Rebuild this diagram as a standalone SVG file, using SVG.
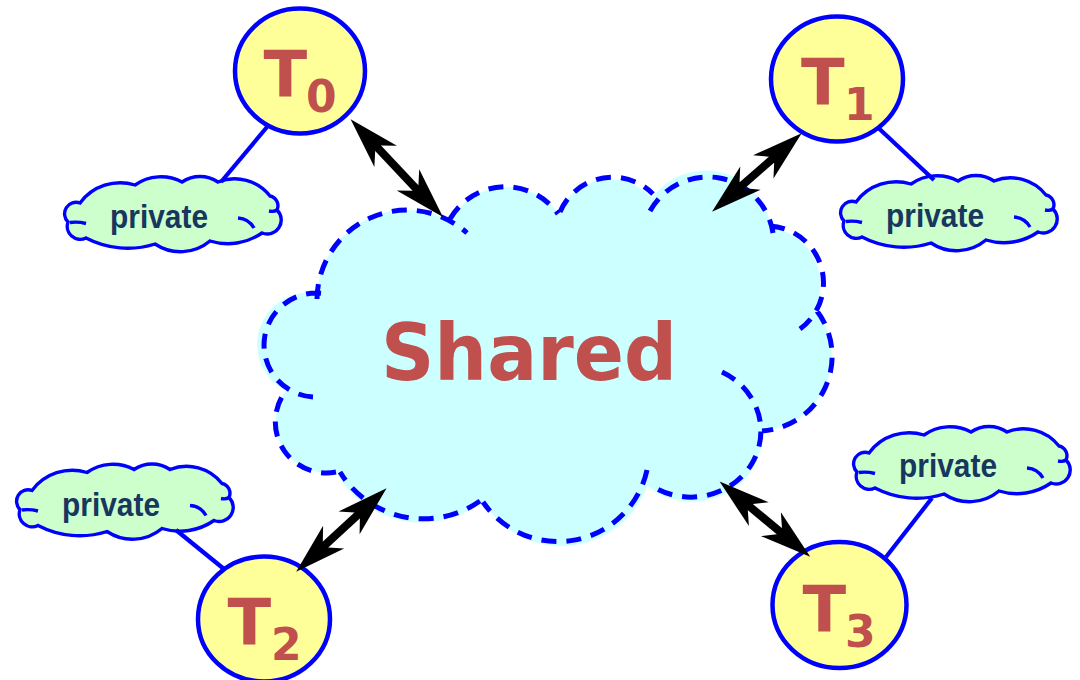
<svg xmlns="http://www.w3.org/2000/svg" xmlns:xlink="http://www.w3.org/1999/xlink" width="1080" height="680" viewBox="0 0 1080 680">
<style>
.tnode ellipse{fill:#FFFF99;stroke:#0000FF;stroke-width:4.5}
.tlabel{font-family:"DejaVu Sans",Verdana,sans-serif;font-weight:bold;font-size:64px;fill:#C0504D}
.sub{font-size:44px}
.shared-fill{fill:#CCFFFF}
.shared-line{fill:none;stroke:#0000FF;stroke-width:5;stroke-dasharray:15 10}
.shared-text{font-family:"DejaVu Sans",Verdana,sans-serif;font-weight:bold;font-size:78px;fill:#C0504D}
.pfill{fill:#CCFFCC;stroke:#0000FF;stroke-width:3.4}
.pinner{fill:none;stroke:#0000FF;stroke-width:3.4}
.ptext{font-family:"Liberation Sans",Arial,sans-serif;font-weight:bold;font-size:33px;fill:#17375E}
.link{stroke:#0000FF;stroke-width:4.2;fill:none}
.arrow{stroke:#000000;stroke-width:8;fill:none;marker-start:url(#ah);marker-end:url(#ah)}
</style>
<defs>
<marker id="ah" markerUnits="userSpaceOnUse" orient="auto-start-reverse" viewBox="-13 -16 53 32" markerWidth="53" markerHeight="32" refX="0" refY="0">
<path d="M39,0 L-12,-15.5 L-1,-4 L-1,4 L-12,15.5 Z" fill="#000000"/>
</marker>
<g id="pc">
<path class="pfill" d="M68,222 A11.5,11.5 0 0 1 80,203 A50,50 0 0 1 135,185 A45,45 0 0 1 182,182 A32,32 0 0 1 218,182 A45,45 0 0 1 270,196 A10,10 0 0 1 277,210 A14,14 0 0 1 262,233 A60,60 0 0 1 210,241 A46,46 0 0 1 155,244 A90,90 0 0 1 86,238 A13,13 0 0 1 68,222 Z"/>
<path class="pinner" d="M238,218 A20,20 0 0 1 254,228 M70,222.5 Q78,221.5 86,223.5 M277,210 Q274,212 269,211"/>
</g>
</defs>

<g id="shared">
<path class="shared-fill" d="M336,472 A51,51 0 0 1 286,391 A52,52 0 0 1 317,293 A90,90 0 0 1 450,221 A64,64 0 0 1 558,213 A57,57 0 0 1 652,198 A66,66 0 0 1 771,228 A57,57 0 0 1 815,309 A75,75 0 0 1 762,431 A70,66 0 0 1 647,486 A91,91 0 0 1 483,501 A98,98 0 0 1 336,472 Z"/>
<path class="shared-line" d="M336,472 A51,51 0 0 1 283,395 M313,397 A52,52 0 1 1 330,295 M317,299 A90,90 0 0 1 467,233 M450,219 A64,64 0 0 1 558,214 M560,212 A57,57 0 0 1 653,194 M650,211 A66,66 0 0 1 773,233 M770,226 A57,57 0 0 1 800,329 M817,311 A75,75 0 0 1 762,431 M722,372 A70,66 0 1 1 652,486 M647,470 A91,91 0 0 1 483,502 M480,501 A98,98 0 0 1 340,472"/>
<text class="shared-text" x="381" y="380" textLength="296" lengthAdjust="spacingAndGlyphs">Shared</text>
</g>

<g id="private0">
<use xlink:href="#pc" href="#pc"/>
<text class="ptext" x="110" y="228" textLength="98" lengthAdjust="spacingAndGlyphs">private</text>
</g>
<g id="private1">
<use xlink:href="#pc" href="#pc" transform="translate(776,-1)"/>
<text class="ptext" x="886" y="227" textLength="98" lengthAdjust="spacingAndGlyphs">private</text>
</g>
<g id="private2">
<use xlink:href="#pc" href="#pc" transform="translate(-48,287.5)"/>
<text class="ptext" x="62" y="515.5" textLength="98" lengthAdjust="spacingAndGlyphs">private</text>
</g>
<g id="private3">
<use xlink:href="#pc" href="#pc" transform="translate(789,250)"/>
<text class="ptext" x="899" y="477" textLength="98" lengthAdjust="spacingAndGlyphs">private</text>
</g>

<g id="T0" class="tnode">
<ellipse cx="300" cy="71" rx="65" ry="62.5"/>
<text class="tlabel" x="263.5" y="97">T<tspan class="sub" x="306" y="112">0</tspan></text>
</g>
<g id="T1" class="tnode">
<ellipse cx="837" cy="79" rx="66" ry="62.5"/>
<text class="tlabel" x="801" y="105">T<tspan class="sub" x="844" y="120">1</tspan></text>
</g>
<g id="T2" class="tnode">
<ellipse cx="264" cy="619" rx="66" ry="62.5"/>
<text class="tlabel" x="227.5" y="645">T<tspan class="sub" x="271" y="660">2</tspan></text>
</g>
<g id="T3" class="tnode">
<ellipse cx="839.5" cy="605" rx="67" ry="63"/>
<text class="tlabel" x="802.5" y="632">T<tspan class="sub" x="845" y="647">3</tspan></text>
</g>

<g id="connectors">
<line class="link" x1="267" y1="127" x2="221" y2="182"/>
<line class="link" x1="879" y1="128.5" x2="934" y2="180"/>
<line class="link" x1="224" y1="569" x2="176" y2="530"/>
<line class="link" x1="886" y1="557" x2="932" y2="498"/>
<line class="arrow" x1="377.4" y1="147.6" x2="416.2" y2="188.7"/>
<line class="arrow" x1="772.3" y1="159" x2="741.4" y2="186"/>
<line class="arrow" x1="357.9" y1="514.7" x2="324.8" y2="545.3"/>
<line class="arrow" x1="749.6" y1="506.5" x2="780.2" y2="531.9"/>
</g>
</svg>
